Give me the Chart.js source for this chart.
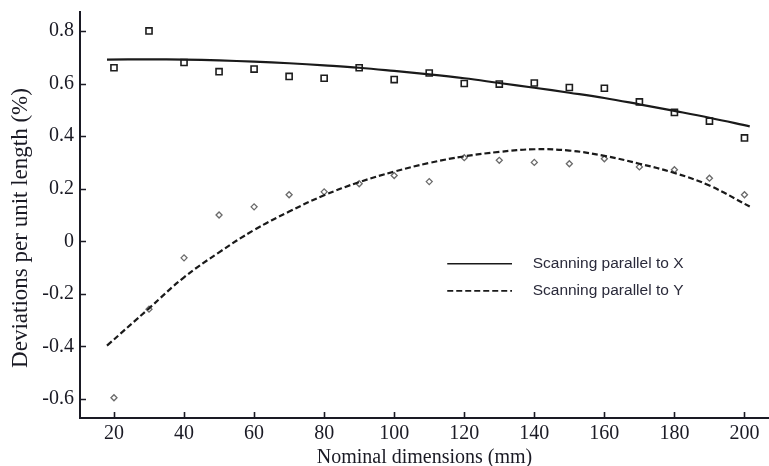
<!DOCTYPE html>
<html>
<head>
<meta charset="utf-8">
<script src="https://cdn.jsdelivr.net/npm/chart.js@4.4.1/dist/chart.umd.min.js"></script>
<style>
  html, body { margin: 0; padding: 0; background: #fff; }
  #wrap { width: 769px; height: 466px; }
</style>
</head>
<body>
<div id="wrap"><canvas id="c" width="769" height="466"></canvas></div>
<script>
// Nominal dimensions of the measured gauges (mm)
const sizes = [20, 30, 40, 50, 60, 70, 80, 90, 100, 110, 120, 130, 140, 150, 160, 170, 180, 190, 200];
// Measured deviation per unit length (%), scanning parallel to X
const devX = [0.66, 0.80, 0.68, 0.645, 0.655, 0.627, 0.62, 0.66, 0.615, 0.64, 0.60, 0.598, 0.602, 0.585, 0.582, 0.53, 0.49, 0.457, 0.393];
// Measured deviation per unit length (%), scanning parallel to Y
const devY = [-0.595, -0.258, -0.063, 0.10, 0.131, 0.177, 0.188, 0.219, 0.25, 0.227, 0.318, 0.308, 0.30, 0.295, 0.314, 0.283, 0.272, 0.24, 0.177];

// Fitted trend curves
const fitSizes = [18, 30, 40, 50, 60, 70, 80, 90, 100, 110, 120, 130, 140, 150, 160, 170, 180, 190, 201.5];
const fitX = [0.691, 0.692, 0.691, 0.688, 0.683, 0.677, 0.669, 0.66, 0.648, 0.635, 0.62, 0.602, 0.584, 0.565, 0.545, 0.521, 0.496, 0.47, 0.437];
const fitY = [-0.397, -0.255, -0.137, -0.042, 0.043, 0.113, 0.175, 0.225, 0.265, 0.298, 0.323, 0.34, 0.35, 0.345, 0.325, 0.295, 0.26, 0.212, 0.132];

const xTicks = [20, 40, 60, 80, 100, 120, 140, 160, 180, 200];
const yTicks = [-0.6, -0.4, -0.2, 0, 0.2, 0.4, 0.6, 0.8];
const seriesNames = ['Scanning parallel to X', 'Scanning parallel to Y'];

const INK = '#1a1a24';
const SERIF = '"Liberation Serif", "Times New Roman", serif';

const pts = (xs, ys) => xs.map((x, i) => ({ x: x, y: ys[i] }));

// Inward-pointing tick marks on both axes
const innerTicks = {
  id: 'innerTicks',
  afterDatasetsDraw(chart) {
    const { ctx, chartArea: a, scales: { x, y } } = chart;
    ctx.save();
    ctx.strokeStyle = INK;
    ctx.lineWidth = 1.6;
    ctx.beginPath();
    xTicks.forEach(v => {
      const px = Math.round(x.getPixelForValue(v)) + 0.5;
      ctx.moveTo(px, a.bottom);
      ctx.lineTo(px, a.bottom - 6);
    });
    yTicks.forEach(v => {
      const py = Math.round(y.getPixelForValue(v)) + 0.5;
      ctx.moveTo(a.left, py);
      ctx.lineTo(a.left + 6, py);
    });
    ctx.stroke();
    ctx.restore();
  }
};

// Line-style key placed inside the plotting area
const lineKey = {
  id: 'lineKey',
  afterDraw(chart) {
    const { ctx, chartArea: a } = chart;
    const w = a.right - a.left, h = a.bottom - a.top;
    const x0 = a.left + w * 0.533, x1 = a.left + w * 0.627, xt = a.left + w * 0.657;
    const rows = [a.top + h * 0.62, a.top + h * 0.687];
    const dashes = [[], [6, 3]];
    ctx.save();
    rows.forEach((ry, i) => {
      ctx.strokeStyle = '#1a1a1a';
      ctx.lineWidth = 1.6;
      ctx.setLineDash(dashes[i]);
      ctx.beginPath();
      ctx.moveTo(x0, ry);
      ctx.lineTo(x1, ry);
      ctx.stroke();
      ctx.setLineDash([]);
      ctx.fillStyle = '#2a2a3a';
      ctx.font = '15.5px "Liberation Sans", Arial, sans-serif';
      ctx.textBaseline = 'middle';
      ctx.textAlign = 'left';
      ctx.fillText(seriesNames[i], xt, ry);
    });
    ctx.restore();
  }
};

// Vertical axis title
const yTitle = {
  id: 'yTitle',
  afterDraw(chart) {
    const { ctx } = chart;
    ctx.save();
    ctx.translate(21, 228);
    ctx.rotate(-Math.PI / 2);
    ctx.fillStyle = INK;
    ctx.font = '23px ' + SERIF;
    ctx.textAlign = 'center';
    ctx.textBaseline = 'middle';
    ctx.fillText('Deviations per unit length (%)', 0, 0);
    ctx.restore();
  }
};

new Chart(document.getElementById('c'), {
  type: 'scatter',
  data: {
    datasets: [
      {
        label: seriesNames[0] + ' (fit)',
        data: pts(fitSizes, fitX),
        showLine: true,
        borderColor: '#1a1a1a',
        borderWidth: 2.2,
        tension: 0.4,
        pointRadius: 0
      },
      {
        label: seriesNames[1] + ' (fit)',
        data: pts(fitSizes, fitY),
        showLine: true,
        borderColor: '#1a1a1a',
        borderWidth: 2.2,
        borderDash: [6, 3],
        tension: 0.4,
        pointRadius: 0
      },
      {
        label: seriesNames[0],
        data: pts(sizes, devX),
        pointStyle: 'rect',
        pointRadius: 4.3,
        borderColor: '#1e1e1e',
        borderWidth: 1.6,
        backgroundColor: 'rgba(255,255,255,0)'
      },
      {
        label: seriesNames[1],
        data: pts(sizes, devY),
        pointStyle: 'rectRot',
        pointRadius: 3,
        borderColor: '#6a6a6a',
        borderWidth: 1.3,
        backgroundColor: 'rgba(255,255,255,0)'
      }
    ]
  },
  options: {
    responsive: false,
    animation: false,
    devicePixelRatio: 1,
    layout: { autoPadding: false, padding: { top: 12, right: 0, bottom: 0, left: 0 } },
    plugins: { legend: { display: false }, tooltip: { enabled: false } },
    scales: {
      x: {
        type: 'linear',
        min: 10.3,
        max: 207,
        afterBuildTicks: s => { s.ticks = xTicks.map(v => ({ value: v })); },
        afterFit: s => { s.height = 48; s.paddingLeft = 0; s.paddingRight = 0; },
        grid: { display: true, drawOnChartArea: false, drawTicks: false },
        border: { display: true, color: INK, width: 2 },
        ticks: { color: INK, font: { family: SERIF, size: 20 }, padding: 4, maxRotation: 0, autoSkip: false },
        title: {
          display: true,
          text: 'Nominal dimensions (mm)',
          color: INK,
          font: { family: SERIF, size: 20, lineHeight: 0.8 },
          padding: { top: 0, bottom: 0 }
        }
      },
      y: {
        type: 'linear',
        min: -0.672,
        max: 0.872,
        afterBuildTicks: s => { s.ticks = yTicks.map(v => ({ value: v })); },
        afterFit: s => { s.width = 80; s.paddingTop = 0; s.paddingBottom = 0; },
        grid: { display: true, drawOnChartArea: false, drawTicks: false },
        border: { display: true, color: INK, width: 2 },
        ticks: {
          color: INK,
          font: { family: SERIF, size: 20 },
          padding: 6,
          callback: v => String(Math.round(v * 10) / 10)
        }
      }
    }
  },
  plugins: [innerTicks, lineKey, yTitle]
});
</script>
</body>
</html>
